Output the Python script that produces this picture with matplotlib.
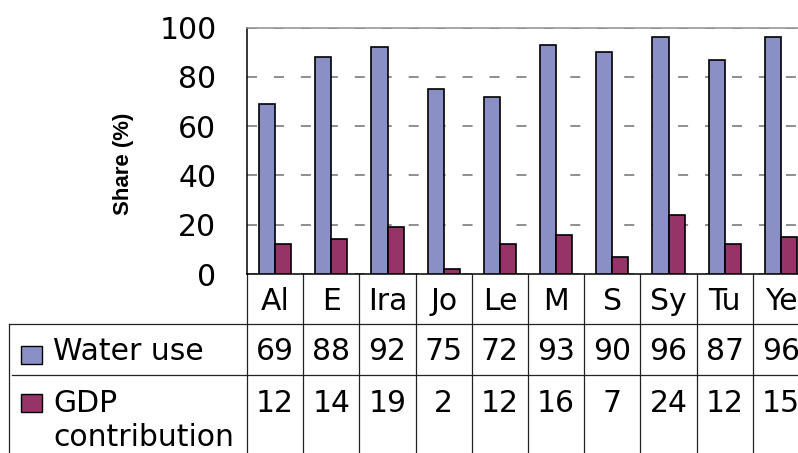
import matplotlib
matplotlib.use("Agg")
import matplotlib.pyplot as plt
import matplotlib.transforms as mtransforms
from matplotlib.patches import Rectangle

plt.rcParams['font.family'] = ['DejaVu Sans']

categories = ["Al", "E", "Ira", "Jo", "Le", "M", "S", "Sy", "Tu", "Ye"]
water_use = [69, 88, 92, 75, 72, 93, 90, 96, 87, 96]
gdp_contribution = [12, 14, 19, 2, 12, 16, 7, 24, 12, 15]
series_names = ["Water use", "GDP\ncontribution"]
yticks = [0, 20, 40, 60, 80, 100]

water_color = "#8A90C6"
gdp_color = "#963468"

W, H = 798, 453
FS = 21.5
fig = plt.figure(figsize=(W / 100, H / 100), dpi=100)

def fx(p):
    return p / W

def fy(p):
    return 1 - p / H

left, right, top, bottom = 247, 809, 27.5, 274
ax = fig.add_axes([fx(left), fy(bottom), fx(right - left), (bottom - top) / H])

x = list(range(len(categories)))
bw = 0.285
ax.bar([i - bw / 2 for i in x], water_use, width=bw, color=water_color,
       edgecolor="black", linewidth=1.2, zorder=3)
ax.bar([i + bw / 2 for i in x], gdp_contribution, width=bw, color=gdp_color,
       edgecolor="black", linewidth=1.2, zorder=3)

ax.set_xlim(-0.5, len(categories) - 0.5)
ax.set_ylim(0, 100)
ax.set_yticks(yticks)
ax.set_yticklabels([str(v) for v in yticks], fontsize=FS)
ax.set_xticks([])
ax.tick_params(axis='y', length=0, pad=22)

lw = 1.1
ax.yaxis.grid(True, color="#707070", linewidth=lw,
              linestyle=(0, (7.2 / lw, 12.2 / lw)), zorder=1)
ax.set_axisbelow(True)
for s in ["left", "bottom"]:
    ax.spines[s].set_color("black")
    ax.spines[s].set_linewidth(1.1)
ax.spines["top"].set_color("#909090")
ax.spines["top"].set_linewidth(1.1)
ax.spines["right"].set_visible(False)

fig.text(fx(124), fy(164), "Share (%)", rotation=90, fontsize=16,
         fontweight="bold", ha="center", va="center",
         family=["Liberation Sans", "DejaVu Sans"])

# Data table below the axes
bt = mtransforms.blended_transform_factory(ax.transData, fig.transFigure)
tcol = "#222222"
tlw = 0.9
for i in range(len(categories) + 1):
    ax.plot([i - 0.5, i - 0.5], [fy(bottom), fy(H + 5)], transform=bt,
            color=tcol, linewidth=tlw, clip_on=False)
ax.plot([fx(9), fx(W + 20)], [fy(324), fy(324)], transform=fig.transFigure,
        color=tcol, linewidth=tlw, clip_on=False)
ax.plot([fx(12), fx(W + 20)], [fy(375), fy(375)], transform=fig.transFigure,
        color=tcol, linewidth=tlw, clip_on=False)
ax.plot([fx(9), fx(9)], [fy(324), fy(H + 5)], transform=fig.transFigure,
        color=tcol, linewidth=tlw, clip_on=False)

for i, c in enumerate(categories):
    ax.text(i, fy(301), c, transform=bt, ha="center", va="center", fontsize=FS)
    ax.text(i, fy(352), str(water_use[i]), transform=bt, ha="center",
            va="center", fontsize=FS)
    ax.text(i, fy(403), str(gdp_contribution[i]), transform=bt, ha="center",
            va="center", fontsize=FS)

for (y0, col) in [(346, water_color), (394, gdp_color)]:
    fig.add_artist(Rectangle((fx(21), fy(y0 + 18)), fx(21) - fx(0), 18 / H,
                             transform=fig.transFigure, facecolor=col,
                             edgecolor="black", linewidth=1.0))

fig.text(fx(53), fy(352), series_names[0], ha="left", va="center", fontsize=FS)
fig.text(fx(53), fy(403), series_names[1].split("\n")[0], ha="left",
         va="center", fontsize=FS)
fig.text(fx(53), fy(438), series_names[1].split("\n")[1], ha="left",
         va="center", fontsize=FS)

fig.savefig("out.png", dpi=100)
